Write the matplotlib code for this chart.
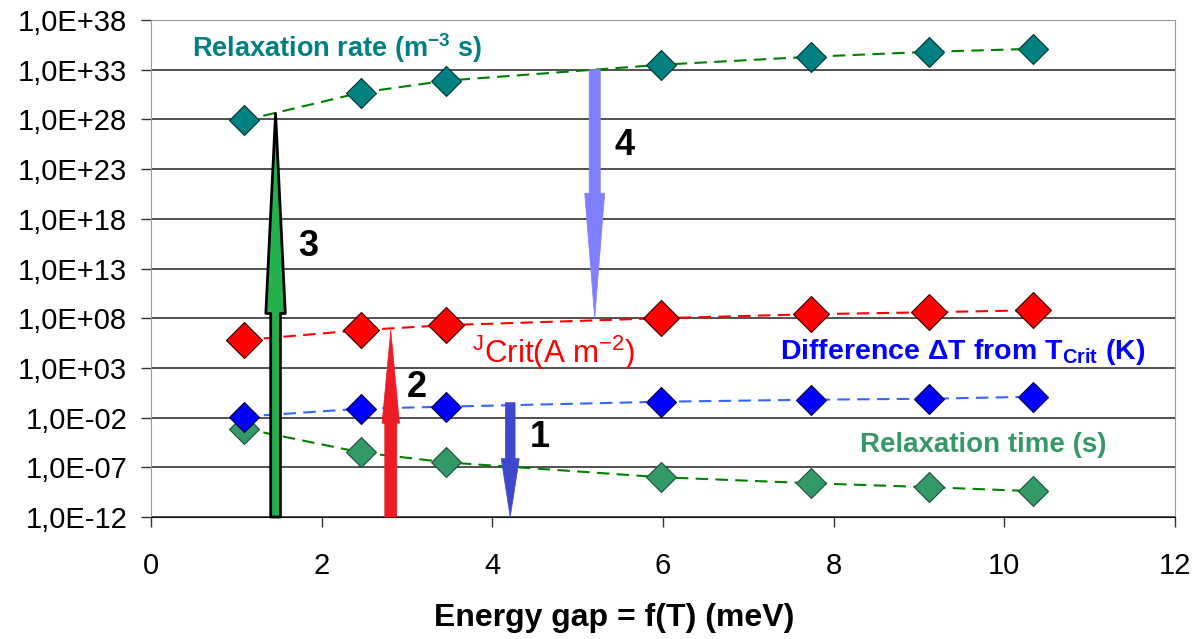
import numpy as np
import matplotlib.pyplot as plt
from matplotlib.ticker import FixedLocator, FuncFormatter

plt.rcParams['font.family'] = ['Liberation Sans', 'DejaVu Sans']
plt.rcParams['mathtext.fontset'] = 'custom'
plt.rcParams['mathtext.rm'] = 'Liberation Sans'
plt.rcParams['mathtext.bf'] = 'Liberation Sans:bold'

# energy gap (meV)
gap = [1.09, 2.46, 3.46, 5.98, 7.73, 9.12, 10.34]

# values as powers of ten
rate_exp = [27.9, 30.7, 31.9, 33.5, 34.3, 34.8, 35.1]      # relaxation rate (m-3 s)
jcrit_exp = [5.8, 6.8, 7.3, 8.0, 8.4, 8.6, 8.8]            # J crit (A m-2)
dT_exp = [-1.9, -1.1, -0.9, -0.4, -0.2, -0.1, 0.1]         # delta T from T crit (K)
tau_exp = [-3.1, -5.5, -6.5, -8.0, -8.6, -9.0, -9.4]       # relaxation time (s)

rate = [10.0 ** e for e in rate_exp]
jcrit = [10.0 ** e for e in jcrit_exp]
dT = [10.0 ** e for e in dT_exp]
tau = [10.0 ** e for e in tau_exp]

# process arrows: label, x, start exponent, end exponent, colour
arrow_lbl = ['1', '2', '3', '4']
arrow_x = [4.21, 2.81, 1.46, 5.20]
arrow_from = [-0.5, -12.0, -12.0, 33.0]
arrow_to = [-12.0, 6.8, 28.6, 8.0]
arrow_col = ['#3f48cc', '#ed1c24', '#22b14c', '#8080ff']
lbl_x = [4.56, 3.11, 1.84, 5.55]
lbl_exp = [-4.05, 0.98, 15.2, 25.4]

fig = plt.figure(figsize=(12.03, 6.39), dpi=100)
fig.subplots_adjust(left=0.1255, right=0.9767, top=0.9687, bottom=0.1909)
ax = fig.add_subplot(111)

ax.set_yscale('log')
ax.set_xlim(0, 12)
ax.set_ylim(1e-12, 1e38)

dash = (6, 3.5)
ax.plot(gap, rate, ls='--', dashes=dash, color='#008000', lw=1.5, zorder=3)
ax.plot(gap, jcrit, ls='--', dashes=dash, color='#ff0000', lw=1.5, zorder=3)
ax.plot(gap, dT, ls='--', dashes=dash, color='#3366ff', lw=1.5, zorder=3)
ax.plot(gap, tau, ls='--', dashes=dash, color='#008000', lw=1.5, zorder=3)

ax.plot(gap, tau, ls='none', marker='D', ms=15, mfc='#339966', mec='#1f4f3a', mew=0.8, zorder=4)
ax.plot(gap, dT, ls='none', marker='D', ms=15, mfc='#0000ff', mec='#000033', mew=0.8, zorder=4)
ax.plot(gap, jcrit, ls='none', marker='D', ms=18.5, mfc='#ff0000', mec='#330000', mew=0.8, zorder=4)
ax.plot(gap, rate, ls='none', marker='D', ms=15, mfc='#008080', mec='#003333', mew=0.8, zorder=4)

# arrow shapes in points: tail width, head width, head length
shapes = [(7.0, 13.0, 42), (8.6, 12.5, 67), (7.0, 14.0, 144), (8.0, 14.4, 90)]
for i in range(4):
    tw, hw, hl = shapes[i]
    edge = 'black' if arrow_lbl[i] == '3' else arrow_col[i]
    lw = 2.0 if arrow_lbl[i] == '3' else 0.5
    ax.annotate('', xy=(arrow_x[i], 10.0 ** arrow_to[i]),
                xytext=(arrow_x[i], 10.0 ** arrow_from[i]),
                arrowprops=dict(arrowstyle=f'simple,tail_width={tw},head_width={hw},head_length={hl}',
                                mutation_scale=1, fc=arrow_col[i], ec=edge, lw=lw,
                                shrinkA=0, shrinkB=0),
                zorder=5, annotation_clip=False)
    ax.text(lbl_x[i], 10.0 ** lbl_exp[i], arrow_lbl[i], fontsize=26, fontweight='bold',
            ha='center', va='center', zorder=6)

ax.text(0.48, 10.0 ** 35.2, r'Relaxation rate (m$^{\mathbf{-3}}$ s)', color='#008080',
        fontsize=19.5, fontweight='bold', ha='left', va='center')
ax.text(3.76, 10.0 ** 4.5, r'$^{\mathrm{J}}$Crit(A m$^{\mathrm{-2}}$)', color='#ff0000',
        fontsize=22.5, ha='left', va='center')
ax.text(7.37, 10.0 ** 4.6, r'Difference $\mathbf{\Delta}$T from T$_{\mathbf{Crit}}$ (K)',
        color='#0000ff', fontsize=20.5, fontweight='bold', ha='left', va='center')
ax.text(8.31, 10.0 ** -4.75, 'Relaxation time (s)', color='#339966',
        fontsize=20, fontweight='bold', ha='left', va='center')

ax.yaxis.set_major_locator(FixedLocator([10.0 ** e for e in range(-12, 39, 5)]))
ax.yaxis.set_minor_locator(FixedLocator([]))
ax.yaxis.set_major_formatter(FuncFormatter(lambda v, p: '1,0E%+03d' % round(np.log10(v))))
ax.set_xticks(range(0, 13, 2))

ax.grid(axis='y', color='#222222', lw=1.1)
ax.set_axisbelow(True)
ax.tick_params(axis='y', direction='out', length=7, width=1, color='#333333',
               labelsize=21, pad=10)
ax.tick_params(axis='x', direction='out', length=7, width=1, color='#333333',
               labelsize=21, pad=18)
for side in ['top', 'right', 'left']:
    ax.spines[side].set_color('#999999')
ax.spines['bottom'].set_color('#111111')

ax.set_xlabel('Energy gap = f(T) (meV)', fontsize=23, fontweight='bold', va='center')
ax.xaxis.set_label_coords(0.452, -0.203)

fig.savefig('out.png', dpi=100)
